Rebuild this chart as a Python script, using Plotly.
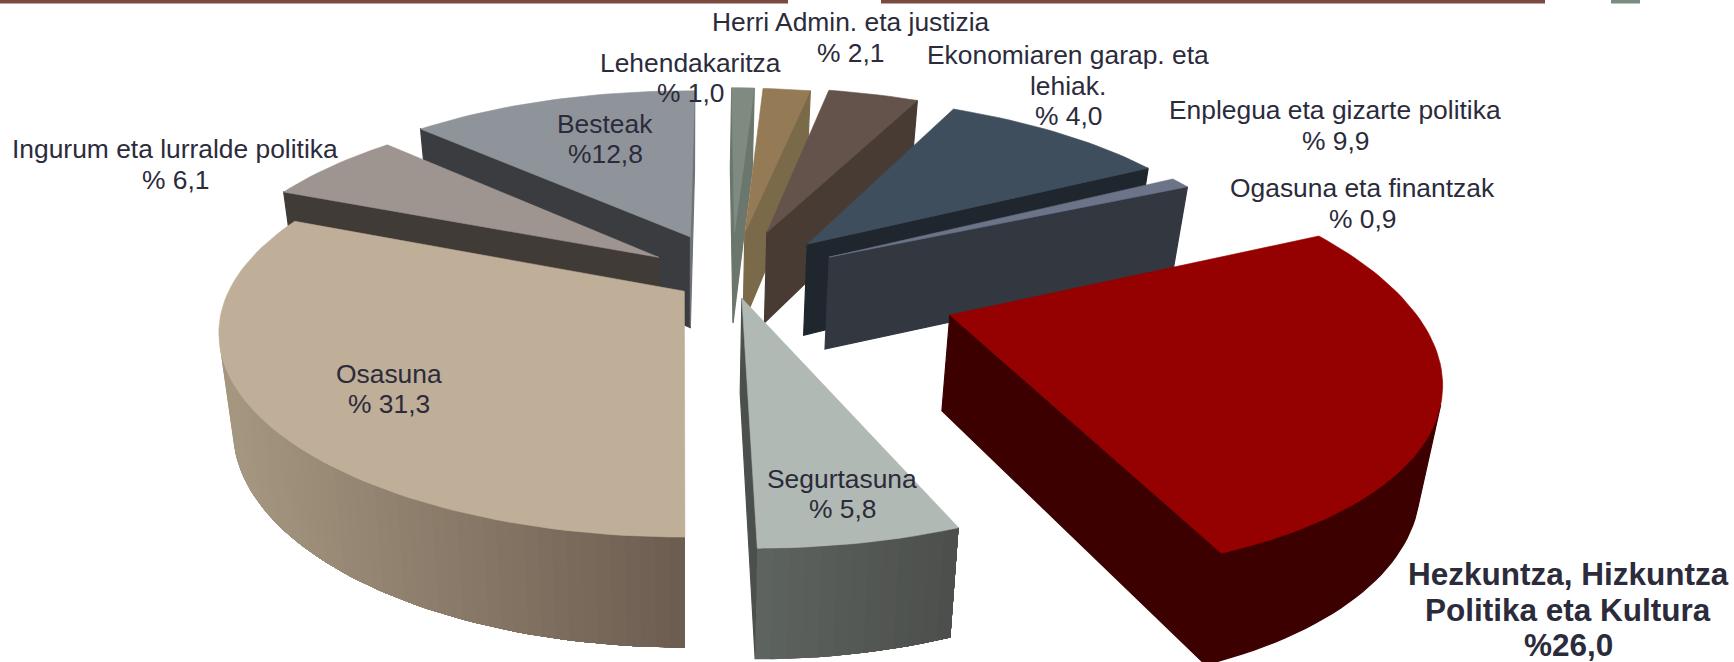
import math
import plotly.graph_objects as go

# ---- data (clockwise from the top) ----
categories = ["Lehendakaritza", "Herri Admin. eta justizia", "Ekonomiaren garap. eta<br>lehiak.",
              "Enplegua eta gizarte politika", "Ogasuna eta finantzak",
              "Hezkuntza, Hizkuntza<br>Politika eta Kultura", "Segurtasuna", "Osasuna",
              "Ingurum eta lurralde politika", "Besteak"]
values = [1.0, 2.1, 4.0, 9.9, 0.9, 26.0, 5.8, 31.3, 6.1, 12.8]
value_labels = ["% 1,0", "% 2,1", "% 4,0", "% 9,9", "% 0,9", "%26,0", "% 5,8", "% 31,3", "% 6,1", "%12,8"]

# ---- styles and layout ----
explode = [0.25, 0.249, 0.265, 0.255, 0.25, 0.5, 0.108, 0.127, 0.197, 0.242]
top_colors = ["#7f8b81", "#947a55", "#63534a", "#3f4e5c", "#6b7488", "#950000", "#b0b9b3", "#bfae98", "#9e9590", "#8f949b"]
wall_colors = ["#6b766d", "#7b6a4a", "#483b33", "#1f262e", "#323740", "#3c0000", "#4c504d", "#a59680", "#413b37", "#3a3c3f"]
wall_colors_end = ["#6b766d", "#7b6a4a", "#483b33", "#1f262e", "#323740", "#3c0000", "#4c504d", "#6b5c50", "#413b37", "#6f7378"]
arc_gradient = {6: ("#5e6460", "#4c4f4b", 753, 954), 7: ("#a59680", "#6b5c50", 232, 686)}
label_xy = [(690, 78), (850.5, 37.5), (1068, 85.5), (1335, 125.5), (1362, 203.5),
            (1568, 609.5), (842, 494), (389, 389), (175, 164.5), (605, 139)]
draw_order = [0, 1, 2, 3, 4, 9, 8, 7, 5, 6]
ROTATION = 0.8
CX, CY, R, RF, K = 686, 292, 456, 196, 0.2037
U0, V0 = 0.102, 0.074
FONT = "Liberation Sans"
INK = "#2b2b3b"


def project(u, v):
    d = 1 + K * v
    return CX + R * u / d, CY - RF * v / d


def drop(p):
    return CX + (p[0] - CX) * 0.97, p[1] + 75 + 0.066 * p[1]


def mix(a, b, t):
    ca = [int(a[i:i + 2], 16) for i in (1, 3, 5)]
    cb = [int(b[i:i + 2], 16) for i in (1, 3, 5)]
    return "#%02x%02x%02x" % tuple(round(x + (y - x) * t) for x, y in zip(ca, cb))


def poly(points, color, name, width=0.6):
    xs = [p[0] for p in points] + [points[0][0]]
    ys = [p[1] for p in points] + [points[0][1]]
    return go.Scatter(x=xs, y=ys, mode="lines", fill="toself", fillcolor=color,
                      line=dict(color=color, width=width), name=name,
                      hoverinfo="name", showlegend=False)


def front_facing(a, b):
    c, d = drop(b), drop(a)
    q = [a, b, c, d]
    area = sum(q[i][0] * q[(i + 1) % 4][1] - q[(i + 1) % 4][0] * q[i][1] for i in range(4))
    return area < 0


total = sum(values)
spans = []
theta = ROTATION
for v in values:
    spans.append((theta, theta + 360 * v / total))
    theta = spans[-1][1]

fig = go.Figure()
for i in draw_order:
    start, end = spans[i]
    mid = math.radians((start + end) / 2)
    au = U0 + explode[i] * math.sin(mid)
    av = V0 + explode[i] * math.cos(mid)
    apex = project(au, av)
    n = max(3, int((end - start) / 1.5))
    arc = []
    for j in range(n + 1):
        t = math.radians(start + (end - start) * j / n)
        arc.append(project(au + math.sin(t), av + math.cos(t)))
    name = categories[i].replace("<br>", " ")
    # radial walls
    if front_facing(apex, arc[0]):
        fig.add_trace(poly([apex, arc[0], drop(arc[0]), drop(apex)], wall_colors[i], name, 1.2))
    if front_facing(arc[-1], apex):
        fig.add_trace(poly([arc[-1], apex, drop(apex), drop(arc[-1])], wall_colors_end[i], name, 1.2))
    # outer wall: one polygon per run of visible arc; gradients paint over progressively
    visible = [j for j in range(n) if front_facing(arc[j], arc[j + 1])]
    if visible:
        run = arc[visible[0]:visible[-1] + 2]
        if i in arc_gradient:
            c0, c1, x0, x1 = arc_gradient[i]
            ordered = run if run[0][0] < run[-1][0] else run[::-1]
            for j in range(len(ordered) - 1):
                part = ordered[j:]
                tone = min(1, max(0, ((ordered[j][0] + ordered[j + 1][0]) / 2 - x0) / (x1 - x0)))
                fig.add_trace(poly(part + [drop(p) for p in part[::-1]], mix(c0, c1, tone), name, 0))
        else:
            fig.add_trace(poly(run + [drop(p) for p in run[::-1]], wall_colors[i], name, 1.2))
    # top surface
    fig.add_trace(poly([apex] + arc, top_colors[i], name))

annotations = []
for i, (x, y) in enumerate(label_xy):
    bold = i == 5
    step = 35.5 if bold else 30.5
    lines = categories[i].split("<br>") + [value_labels[i]]
    top = y - step * (len(lines) - 1) / 2
    for j, line in enumerate(lines):
        note = dict(x=x, y=top + j * step, xref="x", yref="y",
                    text="<b>" + line + "</b>" if bold else line, showarrow=False,
                    xanchor="center", yanchor="middle", align="center",
                    font=dict(family=FONT, size=31.5 if bold else 26.4, color=INK))
        if bold:
            note["height"] = 34
        annotations.append(note)

shapes = [
    dict(type="rect", xref="x", yref="y", x0=0, x1=788, y0=0, y1=3.5, fillcolor="#7b4a40", line_width=0),
    dict(type="rect", xref="x", yref="y", x0=881, x1=1545, y0=0, y1=3.5, fillcolor="#7b4a40", line_width=0),
    dict(type="rect", xref="x", yref="y", x0=1611, x1=1640, y0=0, y1=3.5, fillcolor="#7a8b80", line_width=0),
]

fig.update_layout(
    width=1734, height=662, margin=dict(l=0, r=0, t=0, b=0),
    paper_bgcolor="white", plot_bgcolor="white", showlegend=False,
    xaxis=dict(range=[0, 1734], visible=False, fixedrange=True),
    yaxis=dict(range=[662, 0], visible=False, fixedrange=True),
    annotations=annotations, shapes=shapes,
)
fig.write_html("out.html", config={"displayModeBar": False},
               post_script="document.body.style.margin='0';document.body.style.overflow='hidden';")
